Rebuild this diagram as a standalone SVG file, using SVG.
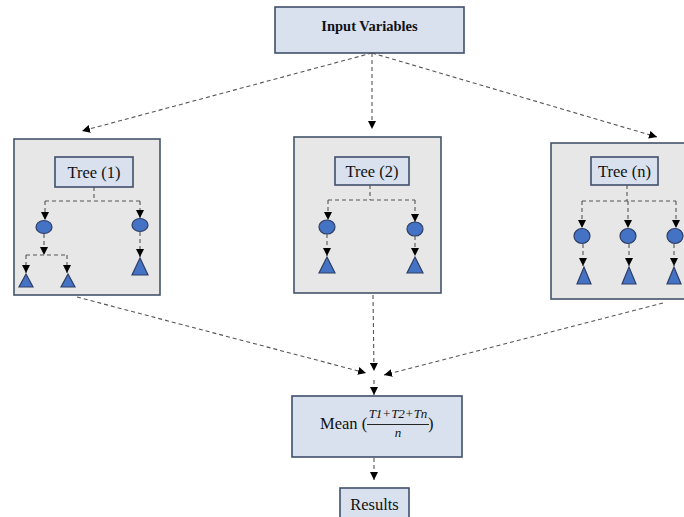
<svg xmlns="http://www.w3.org/2000/svg" width="684" height="517" viewBox="0 0 684 517">
  <defs>
    <marker id="arrow" markerUnits="userSpaceOnUse" markerWidth="9" markerHeight="8" refX="8" refY="4" orient="auto">
      <path d="M0,0 L8,4 L0,8 z" fill="#000"/>
    </marker>
    <style>
      .box { fill: #d9e1ef; stroke: #3f4f6b; stroke-width: 1.6; }
      .panel { fill: #e7e7e7; stroke: #44546a; stroke-width: 1.6; }
      .link { fill: none; stroke: #555; stroke-width: 1.1; stroke-dasharray: 4 3; }
      .arr { marker-end: url(#arrow); }
      .leaf { fill: #4472c4; stroke: #2f3f66; stroke-width: 1.2; }
      .label { font-family: "Liberation Serif", "Times New Roman", serif; fill: #111; }
      .math { font-family: "Liberation Serif", "DejaVu Serif", serif; font-style: italic; fill: #111; }
    </style>
  </defs>

  <!-- nodes -->
  <g id="input">
    <rect class="box" x="275" y="7" width="189" height="46"/>
    <text class="label" x="369.5" y="31" font-size="14.5" font-weight="bold" text-anchor="middle">Input Variables</text>
  </g>

  <g id="tree1">
    <rect class="panel" x="14" y="139" width="146" height="156"/>
    <rect class="box" x="55" y="157" width="78" height="30"/>
    <text class="label" x="94" y="178" font-size="16.5" text-anchor="middle">Tree (1)</text>
    <ellipse class="leaf" cx="44" cy="227" rx="8" ry="6.5"/>
    <ellipse class="leaf" cx="140" cy="225" rx="8" ry="6.5"/>
    <polygon class="leaf" points="26,274 19,287 33,287"/>
    <polygon class="leaf" points="68,274 61,287 75,287"/>
    <polygon class="leaf" points="140,258 132,275 148,275"/>
  </g>

  <g id="tree2">
    <rect class="panel" x="294" y="137" width="147" height="156"/>
    <rect class="box" x="335" y="157" width="74" height="28"/>
    <text class="label" x="372" y="177" font-size="16.5" text-anchor="middle">Tree (2)</text>
    <ellipse class="leaf" cx="327" cy="227" rx="8" ry="7"/>
    <ellipse class="leaf" cx="415" cy="229" rx="8" ry="7"/>
    <polygon class="leaf" points="327,257 319,273 335,273"/>
    <polygon class="leaf" points="415,257 407,273 423,273"/>
  </g>

  <g id="treen">
    <rect class="panel" x="551" y="143" width="140" height="156"/>
    <rect class="box" x="591" y="157" width="67" height="28"/>
    <text class="label" x="624.5" y="177" font-size="16.5" text-anchor="middle">Tree (n)</text>
    <ellipse class="leaf" cx="582" cy="236" rx="8" ry="7.5"/>
    <ellipse class="leaf" cx="628" cy="236" rx="8" ry="7.5"/>
    <ellipse class="leaf" cx="675" cy="236" rx="8" ry="7.5"/>
    <polygon class="leaf" points="584,267 577,284 591,284"/>
    <polygon class="leaf" points="629,267 622,284 636,284"/>
    <polygon class="leaf" points="674,267 667,284 681,284"/>
  </g>

  <g id="mean">
    <rect class="box" x="292" y="396" width="170" height="61"/>
    <text class="label" x="320" y="429" font-size="16.5">Mean (</text>
    <text class="math" x="398" y="418" font-size="13" text-anchor="middle">T1+T2+Tn</text>
    <line x1="367" y1="424.5" x2="429" y2="424.5" stroke="#111" stroke-width="0.9"/>
    <text class="math" x="398" y="437" font-size="13" text-anchor="middle">n</text>
    <text class="label" x="428" y="429" font-size="16.5">)</text>
  </g>

  <g id="results">
    <rect class="box" x="340" y="488" width="69" height="34"/>
    <text class="label" x="374.5" y="510" font-size="16.5" text-anchor="middle">Results</text>
  </g>

  <!-- connectors -->
  <g id="connectors">
    <!-- input to trees -->
    <line class="link arr" x1="372" y1="53" x2="82" y2="131"/>
    <line class="link arr" x1="372" y1="53" x2="372" y2="129"/>
    <line class="link arr" x1="372" y1="53" x2="657" y2="137"/>

    <!-- tree (1) branches -->
    <polyline class="link" points="94,187 94,201"/>
    <polyline class="link" points="45,201 140,201"/>
    <line class="link arr" x1="45" y1="201" x2="45" y2="220"/>
    <line class="link arr" x1="140" y1="201" x2="140" y2="218"/>
    <line class="link arr" x1="44" y1="234" x2="44" y2="255"/>
    <polyline class="link" points="26,255 67,255"/>
    <line class="link arr" x1="26" y1="255" x2="26" y2="273"/>
    <line class="link arr" x1="67" y1="255" x2="67" y2="273"/>
    <line class="link arr" x1="140" y1="232" x2="140" y2="257"/>

    <!-- tree (2) branches -->
    <polyline class="link" points="370,185 370,200"/>
    <polyline class="link" points="328,200 415,200"/>
    <line class="link arr" x1="328" y1="200" x2="328" y2="220"/>
    <line class="link arr" x1="415" y1="200" x2="415" y2="222"/>
    <line class="link arr" x1="327" y1="234" x2="327" y2="256"/>
    <line class="link arr" x1="415" y1="236" x2="415" y2="256"/>

    <!-- tree (n) branches -->
    <polyline class="link" points="627,185 627,201"/>
    <polyline class="link" points="582,201 676,201"/>
    <line class="link arr" x1="582" y1="201" x2="582" y2="228"/>
    <line class="link arr" x1="628" y1="201" x2="628" y2="228"/>
    <line class="link arr" x1="676" y1="201" x2="676" y2="228"/>
    <line class="link arr" x1="583" y1="244" x2="583" y2="266"/>
    <line class="link arr" x1="629" y1="244" x2="629" y2="266"/>
    <line class="link arr" x1="674" y1="244" x2="674" y2="266"/>

    <!-- trees to mean -->
    <line class="link arr" x1="77" y1="297" x2="366" y2="373"/>
    <line class="link arr" x1="373" y1="295" x2="374" y2="371"/>
    <line class="link arr" x1="663" y1="303" x2="384" y2="375"/>
    <line class="link arr" x1="374" y1="380" x2="374" y2="395"/>

    <!-- mean to results -->
    <line class="link arr" x1="374" y1="458" x2="374" y2="480"/>
  </g>
</svg>
